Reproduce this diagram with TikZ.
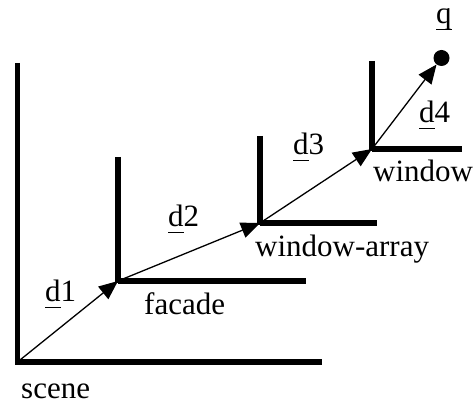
\documentclass[tikz,border=0pt]{standalone}
\usepackage{fontspec}
\setmainfont{Liberation Serif}
\usetikzlibrary{arrows.meta}
\newcommand\myul[1]{\rlap{\rule[-6pt]{.5em}{1.3pt}}#1}
\begin{document}
\begin{tikzpicture}[x=1pt,y=-1pt,
  axis/.style={line width=5.5pt},
  vec/.style={line width=1.3pt,-{Triangle[length=19pt,width=16pt]}},
  lbl/.style={anchor=base west,inner sep=0pt,font=\fontsize{31}{36}\selectfont}]
\useasboundingbox (0,0) rectangle (474,403);
% frame origins
\coordinate (o0) at (17.5,362);
\coordinate (o1) at (118,281);
\coordinate (o2) at (260,223);
\coordinate (o3) at (372,149);
\node[circle,fill=black,inner sep=0pt,minimum size=16pt] (q) at (441.5,58) {};
% frames
\draw[axis] (o0 |- 0,63) -- (17.5,364.5);
\draw[axis] (o0) -- (322,362);
\draw[axis] (o1 |- 0,157) -- (118,283);
\draw[axis] (o1) -- (306,281);
\draw[axis] (o2 |- 0,136) -- (260,225);
\draw[axis] (o2) -- (377,223);
\draw[axis] (o3 |- 0,61) -- (372,151);
\draw[axis] (o3) -- (462,149);
% vectors
\draw[vec] (o0) -- (o1);
\draw[vec] (o1) -- (o2);
\draw[vec] (o2) -- (o3);
\draw[vec] (o3) -- (q);
% labels
\node[lbl] (ld1) at (45,302) {\myul{d}1};
\node[lbl] (ld2) at (168,227) {\myul{d}2};
\node[lbl] (ld3) at (293,155) {\myul{d}3};
\node[lbl] (ld4) at (419,123) {\myul{d}4};
\node[lbl] (lq) at (436,24) {\myul{q}};
\node[lbl] (lfacade) at (144,315) {facade};
\node[lbl] (larray) at (255,257) {window-array};
\node[lbl] (lwindow) at (373,182) {window};
\node[lbl,text depth=0pt] (lscene) at (21,399) {scene};
\end{tikzpicture}
\end{document}
